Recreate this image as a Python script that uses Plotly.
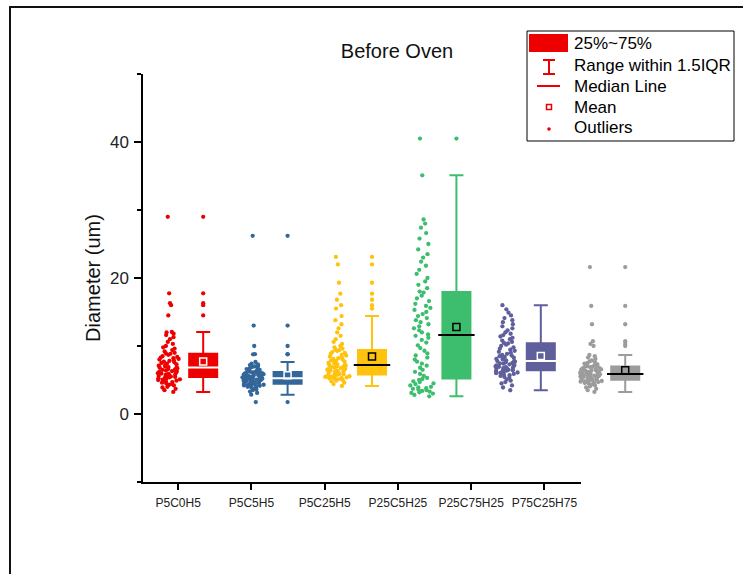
import numpy as np
import plotly.graph_objects as go

categories = ['P5C0H5', 'P5C5H5', 'P5C25H5', 'P25C5H25', 'P25C75H25', 'P75C25H75']

p5c0h5 = [3.24, 3.5, 3.7, 3.9, 4.0, 4.2, 4.3, 4.4, 4.5, 4.6, 4.7, 4.8, 4.9, 5.0, 5.05, 5.1, 5.2, 5.25, 5.3, 5.4,
          5.45, 5.5, 5.55, 5.6, 5.7, 5.75, 5.8, 5.9, 5.95, 6.0, 6.1, 6.2, 6.25, 6.3, 6.4, 6.5, 6.55, 6.6, 6.7, 6.8,
          6.85, 6.9, 7.0, 7.1, 7.2, 7.3, 7.4, 7.5, 7.6, 7.7, 7.8, 7.9, 8.0, 8.1, 8.2, 8.3, 8.4, 8.5, 8.7, 8.85,
          8.9, 9.0, 9.2, 9.4, 9.6, 9.8, 10.0, 10.3, 10.6, 11.0, 11.3, 11.6, 11.8, 12.0, 12.06,
          14.5, 16.0, 16.3, 17.75, 29.0]
p5c5h5 = [1.76, 2.84, 3.1, 3.3, 3.5, 3.6, 3.7, 3.8, 3.9, 4.0, 4.05, 4.1, 4.15, 4.2, 4.25, 4.3, 4.35, 4.4, 4.42, 4.45,
          4.48, 4.5, 4.55, 4.6, 4.65, 4.7, 4.75, 4.8, 4.85, 4.9, 4.95, 5.0, 5.0, 5.05, 5.1, 5.1, 5.15, 5.2, 5.2, 5.25,
          5.28, 5.3, 5.35, 5.4, 5.45, 5.5, 5.5, 5.55, 5.6, 5.65, 5.7, 5.75, 5.8, 5.85, 5.9, 5.95, 6.0, 6.05, 6.1, 6.15,
          6.2, 6.25, 6.3, 6.4, 6.5, 6.6, 6.7, 6.8, 6.9, 7.0, 7.1, 7.2, 7.3, 7.4, 7.65,
          8.78, 8.8, 10.0, 13.0, 26.2]
p5c25h5 = [4.12, 4.4, 4.6, 4.8, 4.9, 5.0, 5.1, 5.15, 5.2, 5.25, 5.3, 5.35, 5.4, 5.45, 5.5, 5.55, 5.6, 5.65, 5.7, 5.8,
           5.85, 5.9, 6.0, 6.1, 6.15, 6.2, 6.3, 6.35, 6.4, 6.5, 6.55, 6.6, 6.7, 6.75, 6.8, 6.9, 6.95, 7.0, 7.1, 7.18,
           7.22, 7.3, 7.4, 7.5, 7.6, 7.7, 7.8, 7.9, 8.0, 8.1, 8.2, 8.3, 8.45, 8.6, 8.7, 8.85, 9.0, 9.1, 9.25, 9.4,
           9.45, 9.6, 9.8, 10.0, 10.3, 10.6, 11.0, 11.5, 12.0, 12.6, 13.2, 13.8, 14.4,
           15.5, 16.0, 16.8, 17.7, 19.3, 22.0, 23.1]
p25c5h25 = [2.6, 2.8, 3.0, 3.1, 3.2, 3.3, 3.4, 3.5, 3.6, 3.7, 3.8, 3.9, 4.0, 4.2, 4.4, 4.5, 4.7, 4.8, 5.0, 5.15,
            5.3, 5.6, 5.9, 6.2, 6.5, 6.8, 7.1, 7.4, 7.7, 8.0, 8.3, 8.6, 8.9, 9.3, 9.7, 10.1, 10.5, 10.9, 11.2, 11.5,
            11.7, 12.0, 12.3, 12.6, 12.9, 13.2, 13.5, 13.8, 14.1, 14.4, 14.7, 15.0, 15.3, 15.6, 15.9, 16.2, 16.6, 17.0, 17.4, 17.85,
            18.0, 18.5, 19.0, 19.5, 20.0, 20.6, 21.2, 21.8, 22.4, 23.0, 23.5, 24.2, 25.0, 25.8, 26.6, 27.4, 28.0, 28.6,
            35.1, 40.5]
p25c75h25 = [3.49, 3.9, 4.2, 4.5, 4.7, 4.9, 5.1, 5.3, 5.45, 5.6, 5.7, 5.8, 5.9, 6.0, 6.05, 6.1, 6.2, 6.25, 6.3, 6.4,
             6.45, 6.5, 6.55, 6.6, 6.7, 6.75, 6.8, 6.9, 6.95, 7.0, 7.1, 7.15, 7.2, 7.3, 7.4, 7.45, 7.5, 7.6, 7.7, 7.78,
             7.82, 7.9, 8.0, 8.1, 8.2, 8.3, 8.4, 8.5, 8.6, 8.7, 8.85, 9.0, 9.15, 9.3, 9.45, 9.6, 9.8, 10.0, 10.2, 10.38,
             10.45, 10.6, 10.8, 11.0, 11.2, 11.4, 11.6, 11.8, 12.0, 12.3, 12.6, 12.9, 13.2, 13.5, 13.8, 14.1, 14.5, 14.9,
             15.4, 16.0]
p75c25h75 = [3.24, 3.5, 3.7, 3.9, 4.05, 4.2, 4.3, 4.4, 4.5, 4.55, 4.6, 4.65, 4.7, 4.75, 4.8, 4.85, 4.9, 4.95, 5.0, 5.03,
             5.06, 5.1, 5.15, 5.2, 5.25, 5.3, 5.35, 5.4, 5.45, 5.5, 5.55, 5.6, 5.62, 5.65, 5.7, 5.72, 5.75, 5.8, 5.83, 5.86,
             5.9, 5.95, 6.0, 6.05, 6.1, 6.15, 6.2, 6.25, 6.3, 6.35, 6.4, 6.45, 6.5, 6.55, 6.6, 6.7, 6.75, 6.8, 6.88, 6.95,
             7.0, 7.05, 7.1, 7.2, 7.3, 7.4, 7.5, 7.6, 7.75, 7.9, 8.1, 8.3, 8.5, 8.68,
             10.0, 10.3, 10.7, 13.2, 15.9, 21.6]

series = [p5c0h5, p5c5h5, p5c25h5, p25c5h25, p25c75h25, p75c25h75]
colors = ['#EE0000', '#336699', '#FFC20E', '#3DBE6E', '#5F5F9C', '#9C9C9C']
inner_colors = ['white', 'white', 'black', 'black', 'white', 'black']
legend_labels = ['25%~75%', 'Range within 1.5IQR', 'Median Line', 'Mean', 'Outliers']

FONT = 'Liberation Sans, Arial, sans-serif'
W, H = 743, 574
L, R, T, B = 143, 83, 74, 92
PW = W - L - R
PH = H - T - B


def pxx(x):
    return (x - L) / PW


def pxy(y):
    return (H - B - y) / PH


BOX_W = 0.332
OFF = 0.2

fig = go.Figure()
for i, (vals, c) in enumerate(zip(series, colors), start=1):
    fig.add_trace(go.Box(
        y=vals, x0=i - OFF, width=BOX_W, boxpoints='all', jitter=0.95, pointpos=0,
        fillcolor='rgba(0,0,0,0)', line=dict(width=0, color='rgba(0,0,0,0)'),
        marker=dict(color=c, size=4.3), showlegend=False, name=categories[i - 1]))
    fig.add_trace(go.Box(
        y=vals, x0=i + OFF, width=BOX_W, boxpoints='outliers', jitter=0, pointpos=0,
        fillcolor=c, line=dict(width=2, color=c), whiskerwidth=0.5,
        marker=dict(color=c, size=4.3), showlegend=False, name=categories[i - 1]))

box_x = [i + OFF for i in range(1, len(series) + 1)]
medians = [float(np.median(v)) for v in series]
means = [float(np.mean(v)) for v in series]

fig.add_trace(go.Scatter(
    x=box_x, y=medians, mode='markers', showlegend=False, hoverinfo='y',
    marker=dict(symbol='line-ew', size=26, color=inner_colors,
                line=dict(width=2, color=inner_colors))))
fig.add_trace(go.Scatter(
    x=box_x, y=means, mode='markers', showlegend=False, hoverinfo='y',
    marker=dict(symbol='square-open', size=7, color=inner_colors,
                line=dict(width=1.5, color=inner_colors))))

# category axis carrying the tick labels
fig.add_trace(go.Scatter(x=categories, y=[None] * len(categories), xaxis='x2', yaxis='y',
                         mode='markers', showlegend=False, hoverinfo='skip'))

shapes = []
annotations = []
# page frame (top and left edges)
shapes.append(dict(type='line', xref='paper', yref='paper', x0=pxx(9), x1=pxx(745), y0=pxy(7), y1=pxy(7),
                   line=dict(color='#111111', width=2)))
shapes.append(dict(type='line', xref='paper', yref='paper', x0=pxx(10), x1=pxx(10), y0=pxy(6), y1=pxy(576),
                   line=dict(color='#111111', width=2)))

# key box
red = colors[0]
shapes.append(dict(type='rect', xref='paper', yref='paper', x0=pxx(527), x1=pxx(734), y0=pxy(31), y1=pxy(141),
                   line=dict(color='black', width=1), fillcolor='white', layer='above'))
shapes.append(dict(type='rect', xref='paper', yref='paper', x0=pxx(529), x1=pxx(568), y0=pxy(34), y1=pxy(52),
                   line=dict(width=0), fillcolor=red, layer='above'))
for (a, b, c, d) in [(549, 549, 60, 74), (543, 555, 60, 60), (543, 555, 74, 74)]:
    shapes.append(dict(type='line', xref='paper', yref='paper', x0=pxx(a), x1=pxx(b), y0=pxy(c), y1=pxy(d),
                       line=dict(color=red, width=2), layer='above'))
shapes.append(dict(type='line', xref='paper', yref='paper', x0=pxx(537), x1=pxx(560), y0=pxy(86), y1=pxy(86),
                   line=dict(color=red, width=2), layer='above'))
shapes.append(dict(type='rect', xref='paper', yref='paper', x0=pxx(546.5), x1=pxx(551.5), y0=pxy(104.5), y1=pxy(109.5),
                   line=dict(color=red, width=1.5), fillcolor='white', layer='above'))
shapes.append(dict(type='circle', xref='paper', yref='paper', x0=pxx(547.5), x1=pxx(550.5), y0=pxy(127.5), y1=pxy(130.5),
                   line=dict(color=red, width=0.5), fillcolor=red, layer='above'))
for lab, yc in zip(legend_labels, [43.5, 65.5, 86.5, 107, 128]):
    annotations.append(dict(text=lab, xref='paper', yref='paper', x=pxx(572), y=pxy(yc), xanchor='left',
                            yanchor='middle', showarrow=False, font=dict(size=17, color='black', family=FONT)))

fig.update_layout(
    width=W, height=H,
    margin=dict(l=L, r=R, t=T, b=B, pad=0),
    paper_bgcolor='white', plot_bgcolor='rgba(0,0,0,0)',
    font=dict(family=FONT, color='#111111'),
    boxmode='overlay',
    title=dict(text='Before Oven', x=397 / W, xanchor='center', y=1 - 51 / H, yanchor='middle',
               font=dict(size=20, color='#111111', family=FONT)),
    xaxis=dict(domain=[0, 1], range=[0.487, 6.612], type='linear', visible=False, fixedrange=True),
    xaxis2=dict(domain=[0, (581 - L) / PW], anchor='y', type='category', categoryorder='array',
                categoryarray=categories, range=[-0.48, 5.5], showline=True, linecolor='black', linewidth=1.5,
                ticks='outside', ticklen=6, tickwidth=1.5, tickcolor='black', showgrid=False, zeroline=False,
                tickfont=dict(size=12, color='#222222', family=FONT), ticklabelstandoff=3),
    yaxis=dict(domain=[0, 1], range=[-10, 50], anchor='x', tickmode='linear', tick0=0, dtick=20,
               ticks='outside', ticklen=7, tickwidth=1.5, tickcolor='black', showline=True, linewidth=1.5,
               linecolor='black', showgrid=False, zeroline=False,
               minor=dict(dtick=10, tick0=0, ticks='outside', ticklen=4, tickwidth=1.5, tickcolor='black',
                          showgrid=False),
               tickfont=dict(size=17, color='#222222', family=FONT), ticklabelstandoff=2,
               title=dict(text='Diameter (um)', font=dict(size=20, color='#111111', family=FONT), standoff=4)),
    shapes=shapes, annotations=annotations,
)

fig.write_html('out.html', config={'displayModeBar': False},
               post_script="document.body.style.margin='0px';")
